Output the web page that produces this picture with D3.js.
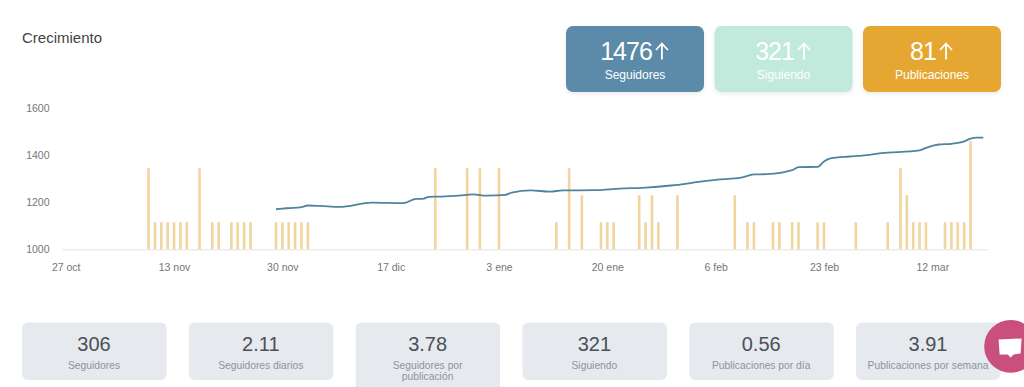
<!DOCTYPE html>
<html>

<head>
  <title>Crecimiento</title>
  <script src="https://cdn.jsdelivr.net/npm/d3@7"></script>
  <style>
    html, body { margin: 0; padding: 0; background: #fff; overflow: hidden; }
    text { font-family: "Liberation Sans", Arial, sans-serif; }
  </style>
</head>

<body>
  <svg width="1024" height="387" id="mainsvg"></svg>
  <script>
    const followerDates = ['2018-11-29', '2018-11-30', '2018-12-01', '2018-12-03', '2018-12-04', '2018-12-06', '2018-12-09',
      '2018-12-14', '2018-12-19', '2018-12-21', '2018-12-22', '2018-12-23', '2018-12-25', '2018-12-29', '2018-12-30',
      '2019-01-01', '2019-01-04', '2019-01-05', '2019-01-08', '2019-01-11', '2019-01-13', '2019-01-18', '2019-01-22',
      '2019-01-26', '2019-01-30', '2019-02-01', '2019-02-03', '2019-02-06', '2019-02-10', '2019-02-12', '2019-02-14',
      '2019-02-18', '2019-02-19', '2019-02-22', '2019-02-23', '2019-02-24', '2019-02-27', '2019-03-01', '2019-03-04',
      '2019-03-10', '2019-03-11', '2019-03-13', '2019-03-15', '2019-03-17', '2019-03-18', '2019-03-19', '2019-03-20'];
    const followerValues = [1170, 1173, 1175, 1179, 1186, 1184, 1180,
      1198, 1196, 1214, 1214, 1223, 1224, 1231, 1233,
      1228, 1231, 1241, 1250, 1245, 1250, 1251, 1258,
      1262, 1271, 1277, 1285, 1295, 1304, 1318, 1319,
      1336, 1349, 1350, 1373, 1386, 1394, 1398, 1408,
      1420, 1431, 1445, 1448, 1458, 1470, 1474, 1474];

    const postDates = ['2018-11-09', '2018-11-10', '2018-11-11', '2018-11-12', '2018-11-13', '2018-11-14', '2018-11-15',
      '2018-11-17', '2018-11-19', '2018-11-20', '2018-11-22', '2018-11-23', '2018-11-24', '2018-11-25',
      '2018-11-29', '2018-11-30', '2018-12-01', '2018-12-02', '2018-12-03', '2018-12-04',
      '2018-12-24', '2018-12-29', '2018-12-31', '2019-01-03', '2019-01-12', '2019-01-14', '2019-01-16',
      '2019-01-19', '2019-01-20', '2019-01-21', '2019-01-25', '2019-01-26', '2019-01-27', '2019-01-28', '2019-01-31',
      '2019-02-09', '2019-02-11', '2019-02-12', '2019-02-15', '2019-02-16', '2019-02-18', '2019-02-19', '2019-02-22', '2019-02-23',
      '2019-02-28', '2019-03-05', '2019-03-07', '2019-03-08', '2019-03-09', '2019-03-10', '2019-03-11',
      '2019-03-14', '2019-03-15', '2019-03-16', '2019-03-17', '2019-03-18'];
    const postCounts = [3, 1, 1, 1, 1, 1, 1,
      3, 1, 1, 1, 1, 1, 1,
      1, 1, 1, 1, 1, 1,
      3, 3, 3, 3, 1, 3, 2,
      1, 1, 1, 2, 1, 2, 1, 2,
      2, 1, 1, 1, 1, 1, 1, 1, 1,
      1, 1, 3, 2, 1, 1, 1,
      1, 1, 1, 1, 4];

    const xTickDates = ['2018-10-27', '2018-11-13', '2018-11-30', '2018-12-17', '2019-01-03', '2019-01-20', '2019-02-06', '2019-02-23', '2019-03-12'];
    const xTickLabels = ['27 oct', '13 nov', '30 nov', '17 dic', '3 ene', '20 ene', '6 feb', '23 feb', '12 mar'];
    const yTicks = [1000, 1200, 1400, 1600];

    const topValues = ['1476', '321', '81'];
    const topLabels = ['Seguidores', 'Siguiendo', 'Publicaciones'];
    const topColors = ['#5b8ba9', '#c1eadd', '#e5a633'];

    const statValues = ['306', '2.11', '3.78', '321', '0.56', '3.91'];
    const statLabels = [['Seguidores'], ['Seguidores diarios'], ['Seguidores por', 'publicación'], ['Siguiendo'], ['Publicaciones por día'], ['Publicaciones por semana']];

    const svg = d3.select('#mainsvg');
    const parseDate = d3.timeParse('%Y-%m-%d');

    svg.append('text').attr('x', 22).attr('y', 43)
      .attr('font-size', 15).attr('fill', '#444').text('Crecimiento');

    // tarjetas de arriba
    const defs = svg.append('defs');
    const shadow = defs.append('filter').attr('id', 'cardshadow')
      .attr('x', '-10%').attr('y', '-10%').attr('width', '120%').attr('height', '130%');
    shadow.append('feDropShadow').attr('dx', 0).attr('dy', 2).attr('stdDeviation', 2)
      .attr('flood-color', '#000').attr('flood-opacity', 0.08);

    const topX = d3.scalePoint().domain(topLabels).range([566, 863]);
    const topCard = svg.selectAll('.topcard').data(topLabels).join('g')
      .attr('class', 'topcard')
      .attr('transform', d => `translate(${topX(d)}, 26)`);
    topCard.append('rect')
      .attr('width', 138).attr('height', 66).attr('rx', 7)
      .attr('fill', (d, i) => topColors[i]).attr('filter', 'url(#cardshadow)');
    const topNum = topCard.append('text')
      .attr('x', 60).attr('y', 34).attr('text-anchor', 'middle')
      .attr('fill', '#fff').attr('font-size', 25).attr('letter-spacing', -1)
      .text((d, i) => topValues[i]);
    // flecha: se coloca detras del numero
    topCard.each(function () {
      const g = d3.select(this);
      const end = g.select('text').node().getBBox();
      g.append('path')
        .attr('transform', `translate(${end.x + end.width + 10}, 25.5)`)
        .attr('d', 'M0,8 L0,-8 M-6,-1.5 L0,-8 L6,-1.5')
        .attr('fill', 'none').attr('stroke', '#fff').attr('stroke-width', 1.8);
    });
    topCard.append('text')
      .attr('x', 69).attr('y', 53).attr('text-anchor', 'middle')
      .attr('fill', '#fff').attr('font-size', 12).text(d => d);

    // escalas
    const xScale = d3.scaleTime()
      .domain([new Date(2018, 9, 26, 10), new Date(2019, 2, 20, 14)])
      .range([62, 987]);
    const yScale = d3.scaleLinear().domain([1000, 1600]).range([249.3, 108]);
    const postScale = d3.scaleLinear().domain([0, 5.23]).range([249.3, 108]);

    // barras de publicaciones
    const barWidth = 2.6;
    svg.append('g').selectAll('rect').data(postDates).join('rect')
      .attr('x', d => xScale(parseDate(d)) - barWidth / 2)
      .attr('y', (d, i) => postScale(postCounts[i]))
      .attr('width', barWidth)
      .attr('height', (d, i) => postScale(0) - postScale(postCounts[i]))
      .attr('fill', '#f1d59c');

    // ejes
    const xAxis = d3.axisBottom(xScale)
      .tickValues(xTickDates.map(parseDate))
      .tickFormat((d, i) => xTickLabels[i])
      .tickSize(0).tickSizeOuter(0).tickPadding(14);
    const xG = svg.append('g').attr('transform', 'translate(0, 249.3)').call(xAxis);
    xG.select('.domain').attr('stroke', '#e2e2e2');
    xG.selectAll('text').attr('font-size', 10.5).attr('fill', '#767676')
      .attr('font-family', '"Liberation Sans", Arial, sans-serif');

    const yAxis = d3.axisLeft(yScale).tickValues(yTicks).tickFormat(d3.format('d')).tickSize(0).tickPadding(0);
    const yG = svg.append('g').attr('transform', 'translate(49.5, 0)').call(yAxis);
    yG.select('.domain').remove();
    yG.selectAll('text').attr('font-size', 10.5).attr('fill', '#767676')
      .attr('font-family', '"Liberation Sans", Arial, sans-serif');

    // linea de seguidores
    const line = d3.line()
      .x((d, i) => xScale(parseDate(followerDates[i])))
      .y(d => yScale(d))
      .curve(d3.curveMonotoneX);
    svg.append('path').datum(followerValues)
      .attr('d', line)
      .attr('fill', 'none').attr('stroke', '#4f83a0').attr('stroke-width', 1.8);

    // tarjetas de abajo
    const statX = d3.scalePoint().domain(statValues.map((d, i) => i)).range([22, 856]);
    const statCard = svg.selectAll('.statcard').data(statValues).join('g')
      .attr('class', 'statcard')
      .attr('transform', (d, i) => `translate(${statX(i)}, 322.5)`);
    statCard.append('rect')
      .attr('width', 144.5)
      .attr('height', (d, i) => statLabels[i].length > 1 ? 80 : 57.5)
      .attr('rx', 6).attr('fill', '#e6e9ed');
    statCard.append('text')
      .attr('x', 72).attr('y', 28.5).attr('text-anchor', 'middle')
      .attr('font-size', 20).attr('fill', '#4b5058').text(d => d);
    statCard.each(function (d, i) {
      d3.select(this).selectAll('.statlabel').data(statLabels[i]).join('text')
        .attr('class', 'statlabel')
        .attr('x', 72).attr('y', (t, k) => 46 + k * 11.5)
        .attr('text-anchor', 'middle')
        .attr('font-size', 10.3).attr('fill', '#8e949e').text(t => t);
    });

    // boton de chat
    const chat = svg.append('g').attr('transform', 'translate(1010.6, 346.4)');
    chat.append('circle').attr('r', 26.4).attr('fill', '#c94f7c');
    chat.append('path')
      .attr('d', 'M-12,-7 L11,-8 L10,7 L3,8 L0,11 L-3,8 L-11,8 Z')
      .attr('fill', '#fff');
  </script>
</body>

</html>
